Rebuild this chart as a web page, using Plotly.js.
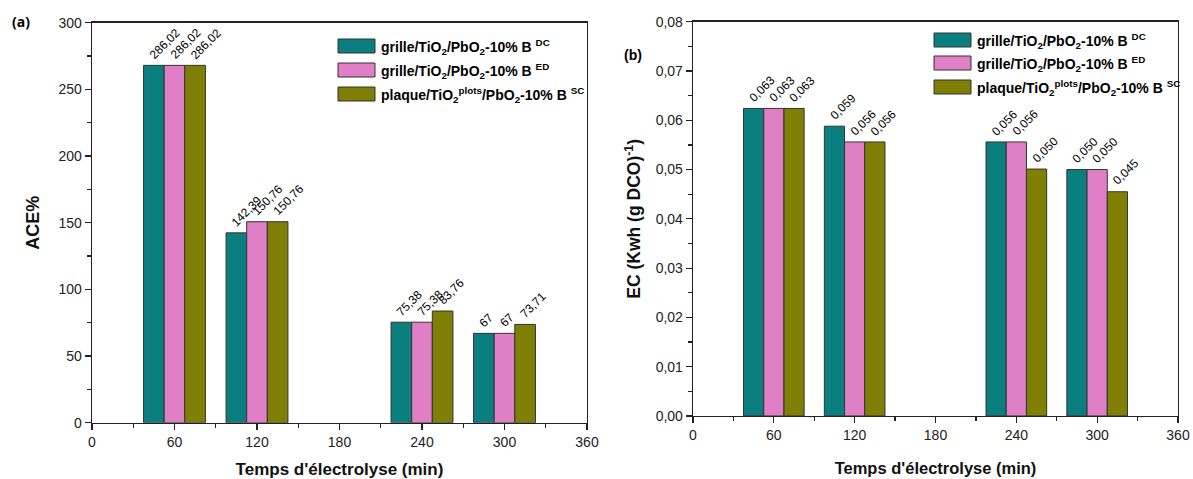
<!DOCTYPE html>
<html><head><meta charset="utf-8">
<script src="https://cdn.plot.ly/plotly-3.0.1.min.js"></script>
<style>html,body{margin:0;padding:0;background:#fff}#chart{width:1193px;height:479px}</style>
</head><body><div id="chart"></div>
<script>
const times = [60, 120, 240, 300];
const seriesNames = [
  'grille/TiO<sub>2</sub>/PbO<sub>2</sub>-10% B <sup>DC</sup>',
  'grille/TiO<sub>2</sub>/PbO<sub>2</sub>-10% B <sup>ED</sup>',
  'plaque/TiO<sub>2</sub><sup>plots</sup>/PbO<sub>2</sub>-10% B <sup>SC</sup>'
];
const colors = ['#0b7f7f', '#e17fc6', '#7f7f05'];
// (a) ACE%
const aceDC = [268, 142.39, 75.38, 67];
const aceED = [268, 150.76, 75.38, 67];
const aceSC = [268, 150.76, 83.76, 73.71];
const aceTxtDC = ['286,02', '142,39', '75,38', '67'];
const aceTxtED = ['286,02', '150,76', '75,38', '67'];
const aceTxtSC = ['286,02', '150,76', '83,76', '73,71'];
// (b) EC
const ecDC = [0.0624, 0.0588, 0.0556, 0.0500];
const ecED = [0.0624, 0.0556, 0.0556, 0.0500];
const ecSC = [0.0624, 0.0556, 0.0501, 0.0455];
const ecTxtDC = ['0,063', '0,059', '0,056', '0,050'];
const ecTxtED = ['0,063', '0,056', '0,056', '0,050'];
const ecTxtSC = ['0,063', '0,056', '0,050', '0,045'];

const W = 1193, H = 479;
const px = v => v / W, py = v => 1 - v / H;
const FONT = 'Arial, "Liberation Sans", sans-serif';
const BARW = 15; // bar width in x units (group = 3 bars)

function barTrace(y, i, xa, ya) {
  return {
    type: 'bar', x: times, y: y, name: seriesNames[i],
    xaxis: xa, yaxis: ya, showlegend: false,
    marker: {color: colors[i], line: {color: '#333', width: 1}},
    hoverinfo: 'x+y'
  };
}
const data = [
  barTrace(aceDC, 0, 'x', 'y'),
  barTrace(aceED, 1, 'x', 'y'),
  barTrace(aceSC, 2, 'x', 'y'),
  barTrace(ecDC, 0, 'x2', 'y2'),
  barTrace(ecED, 1, 'x2', 'y2'),
  barTrace(ecSC, 2, 'x2', 'y2')
];

const tickFont = {family: FONT, size: 14, color: '#222'};
function xAxis(dom, anchor, tsize) {
  return {
    domain: dom, anchor: anchor, range: [0, 360], tickmode: 'linear', tick0: 0, dtick: 60,
    ticks: 'outside', ticklen: 6, tickwidth: 1.2, tickcolor: '#222',
    minor: {ticks: 'outside', dtick: 30, ticklen: 4, tickwidth: 1.2, tickcolor: '#222'},
    showline: true, linecolor: '#222', linewidth: 1.3, mirror: true,
    showgrid: false, zeroline: false, tickfont: tickFont,
    title: {text: "Temps d'électrolyse (min)", font: {family: FONT, size: tsize, color: '#111', weight: 'bold'}, standoff: 20}
  };
}
const layout = {
  width: W, height: H, margin: {l: 0, r: 0, t: 0, b: 0},
  paper_bgcolor: '#fff', plot_bgcolor: '#fff',
  barmode: 'group', bargap: 0.25, bargroupgap: 0,
  separators: ',.',
  font: {family: FONT},
  xaxis: xAxis([px(92), px(587)], 'y', 17),
  xaxis2: xAxis([px(693), px(1178)], 'y2', 16.5),
  yaxis: {
    domain: [py(422.7), py(22.7)], anchor: 'x', range: [0, 300], tickmode: 'linear', dtick: 50,
    ticks: 'outside', ticklen: 6, tickwidth: 1.2, tickcolor: '#222',
    minor: {ticks: 'outside', dtick: 25, ticklen: 4, tickwidth: 1.2, tickcolor: '#222'},
    showline: true, linecolor: '#222', linewidth: 1.3, mirror: true,
    showgrid: false, zeroline: false, tickfont: tickFont,
    title: {text: 'ACE%', font: {family: FONT, size: 18, color: '#111', weight: 'bold'}, standoff: 14}
  },
  yaxis2: {
    domain: [py(416), py(21.7)], anchor: 'x2', range: [0, 0.08], tickmode: 'linear', dtick: 0.01,
    tickformat: '.2f',
    ticks: 'outside', ticklen: 6, tickwidth: 1.2, tickcolor: '#222',
    minor: {ticks: 'outside', dtick: 0.005, ticklen: 4, tickwidth: 1.2, tickcolor: '#222'},
    showline: true, linecolor: '#222', linewidth: 1.3, mirror: true,
    showgrid: false, zeroline: false, tickfont: tickFont,
    title: {text: 'EC (Kwh (g DCO)<sup>-1</sup>)', font: {family: FONT, size: 17.5, color: '#111', weight: 'bold'}, standoff: 10}
  },
  shapes: [], annotations: [
    {xref: 'paper', yref: 'paper', x: px(10), y: py(22), xanchor: 'left', yanchor: 'middle', showarrow: false,
     text: '<b>(a)</b>', font: {family: '"Open Sans", Calibri, sans-serif', size: 14, color: '#000'}},
    {xref: 'paper', yref: 'paper', x: px(622), y: py(55), xanchor: 'left', yanchor: 'middle', showarrow: false,
     text: '<b>(b)</b>', font: {family: FONT, size: 14, color: '#000'}}
  ]
};

// rotated value labels above each bar
function addLabels(vals, txts, i, xa, ya) {
  for (let k = 0; k < times.length; k++) {
    layout.annotations.push({
      xref: xa, yref: ya, x: times[k] + (i - 1) * BARW - BARW / 2, y: vals[k],
      xanchor: 'left', yanchor: 'bottom', xshift: 0, yshift: 1,
      text: txts[k], textangle: -45, showarrow: false,
      font: {family: FONT, size: 12, color: '#000'}
    });
  }
}
addLabels(aceDC, aceTxtDC, 0, 'x', 'y');
addLabels(aceED, aceTxtED, 1, 'x', 'y');
addLabels(aceSC, aceTxtSC, 2, 'x', 'y');
addLabels(ecDC, ecTxtDC, 0, 'x2', 'y2');
addLabels(ecED, ecTxtED, 1, 'x2', 'y2');
addLabels(ecSC, ecTxtSC, 2, 'x2', 'y2');

function addLegend(x0, yCenters) {
  for (let i = 0; i < 3; i++) {
    const yc = yCenters[i];
    layout.shapes.push({type: 'rect', xref: 'paper', yref: 'paper',
      x0: px(x0), x1: px(x0 + 37), y0: py(yc + 7), y1: py(yc - 7),
      fillcolor: colors[i], line: {color: '#333', width: 1}});
    layout.annotations.push({xref: 'paper', yref: 'paper', x: px(x0 + 41), y: py(yc + 1),
      xanchor: 'left', yanchor: 'middle', showarrow: false,
      text: '<b>' + seriesNames[i] + '</b>', font: {family: FONT, size: 14, color: '#000'}});
  }
}
addLegend(338, [46, 70, 94]);
addLegend(934, [40, 63, 87]);

Plotly.newPlot('chart', data, layout, {displayModeBar: false, staticPlot: true});
</script></body></html>
